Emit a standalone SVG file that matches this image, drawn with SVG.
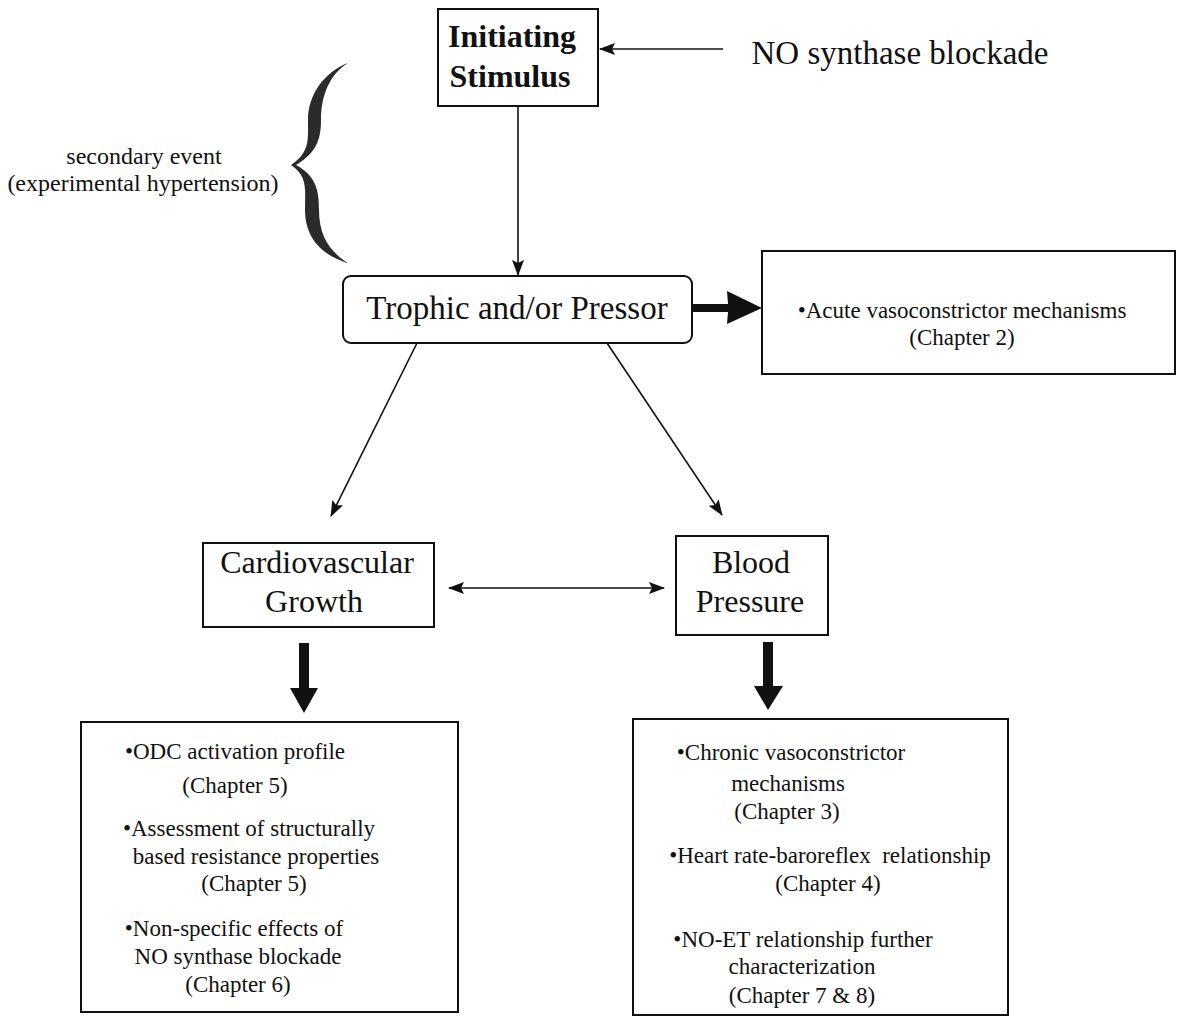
<svg xmlns="http://www.w3.org/2000/svg" width="1181" height="1019" viewBox="0 0 1181 1019">
<style>
  .box{fill:#fff;stroke:#111;stroke-width:2}
  .t{font-family:'Liberation Serif','Times New Roman',serif;fill:#111;text-anchor:middle}
  .big{font-size:32px}
  .sm{font-size:23px}
  .ln{stroke:#111;stroke-width:1.6;fill:none}
  .thick{fill:#111}
</style>
<defs>
  <marker id="ah" markerUnits="userSpaceOnUse" markerWidth="16" markerHeight="12" refX="15" refY="6" orient="auto-start-reverse">
    <path d="M0,0 L16,6 L0,12 L3,6 Z" fill="#111"/>
  </marker>
</defs>

<g id="connectors">
  <line class="ln" x1="723" y1="49" x2="600" y2="49" marker-end="url(#ah)"/>
  <line class="ln" x1="518" y1="106" x2="518" y2="275" marker-end="url(#ah)"/>
  <line class="ln" x1="417" y1="343" x2="331" y2="516" marker-end="url(#ah)"/>
  <line class="ln" x1="607" y1="343" x2="722" y2="515" marker-end="url(#ah)"/>
  <line class="ln" x1="449" y1="588" x2="664" y2="588" marker-start="url(#ah)" marker-end="url(#ah)"/>
  <path class="thick" d="M692,304 L728,304 L727,291 L762,308 L727,324 L728,312 L692,312 Z"/>
  <path class="thick" d="M299,643 L309,643 L309,688 L318,688 L304,713 L290,688 L299,688 Z"/>
  <path class="thick" d="M763,642 L773,642 L773,686 L783,686 L768,710 L754,686 L763,686 Z"/>
</g>

<g id="brace">
  <path d="M348,63 C324,72 308,95 308,120 C308,140 310,152 291,165 C308,176 305,190 305,210 C305,236 320,255 348,263 C330,252 319,236 319,210 C319,190 316,176 296,165 C316,153 321,140 321,120 C321,95 330,74 348,63 Z" fill="#2b2b2b"/>
</g>

<g id="secondary-event">
  <text class="t" x="144" y="164" font-size="24">secondary event</text>
  <text class="t" x="143" y="191" font-size="24">(experimental hypertension)</text>
</g>

<g id="initiating-stimulus">
  <rect class="box" x="438" y="9" width="160" height="97"/>
  <text class="t big" x="512" y="47" font-weight="bold" font-size="31">Initiating</text>
  <text class="t big" x="510" y="87" font-weight="bold" font-size="31">Stimulus</text>
</g>

<g id="no-synthase">
  <text class="t" x="900" y="64" font-size="33">NO synthase blockade</text>
</g>

<g id="trophic-pressor">
  <rect class="box" x="343" y="276" width="349" height="67" rx="8"/>
  <text class="t" x="517" y="319" font-size="33">Trophic and/or Pressor</text>
</g>

<g id="acute">
  <rect class="box" x="762" y="251" width="413" height="123"/>
  <text class="t sm" x="962" y="318" font-size="22.5">•Acute vasoconstrictor mechanisms</text>
  <text class="t sm" x="962" y="345" font-size="22.5">(Chapter 2)</text>
</g>

<g id="cardiovascular-growth">
  <rect class="box" x="203" y="543" width="231" height="84"/>
  <text class="t big" x="317" y="573">Cardiovascular</text>
  <text class="t big" x="314" y="612">Growth</text>
</g>

<g id="blood-pressure">
  <rect class="box" x="676" y="536" width="152" height="99"/>
  <text class="t big" x="751" y="573">Blood</text>
  <text class="t big" x="750" y="612">Pressure</text>
</g>

<g id="growth-studies">
  <rect class="box" x="81" y="722" width="377" height="290"/>
  <text class="t sm" x="235" y="759">•ODC activation profile</text>
  <text class="t sm" x="235" y="793">(Chapter 5)</text>
  <text class="t sm" x="249" y="836">•Assessment of structurally</text>
  <text class="t sm" x="256" y="864">based resistance properties</text>
  <text class="t sm" x="254" y="891">(Chapter 5)</text>
  <text class="t sm" x="234" y="936">•Non-specific effects of</text>
  <text class="t sm" x="238" y="964">NO synthase blockade</text>
  <text class="t sm" x="238" y="992">(Chapter 6)</text>
</g>

<g id="pressure-studies">
  <rect class="box" x="633" y="719" width="375" height="296"/>
  <text class="t sm" x="791" y="760">•Chronic vasoconstrictor</text>
  <text class="t sm" x="788" y="791">mechanisms</text>
  <text class="t sm" x="787" y="819">(Chapter 3)</text>
  <text class="t sm" x="830" y="863" xml:space="preserve">•Heart rate-baroreflex  relationship</text>
  <text class="t sm" x="828" y="891">(Chapter 4)</text>
  <text class="t sm" x="803" y="947">•NO-ET relationship further</text>
  <text class="t sm" x="802" y="974">characterization</text>
  <text class="t sm" x="802" y="1003">(Chapter 7 &amp; 8)</text>
</g>
</svg>
